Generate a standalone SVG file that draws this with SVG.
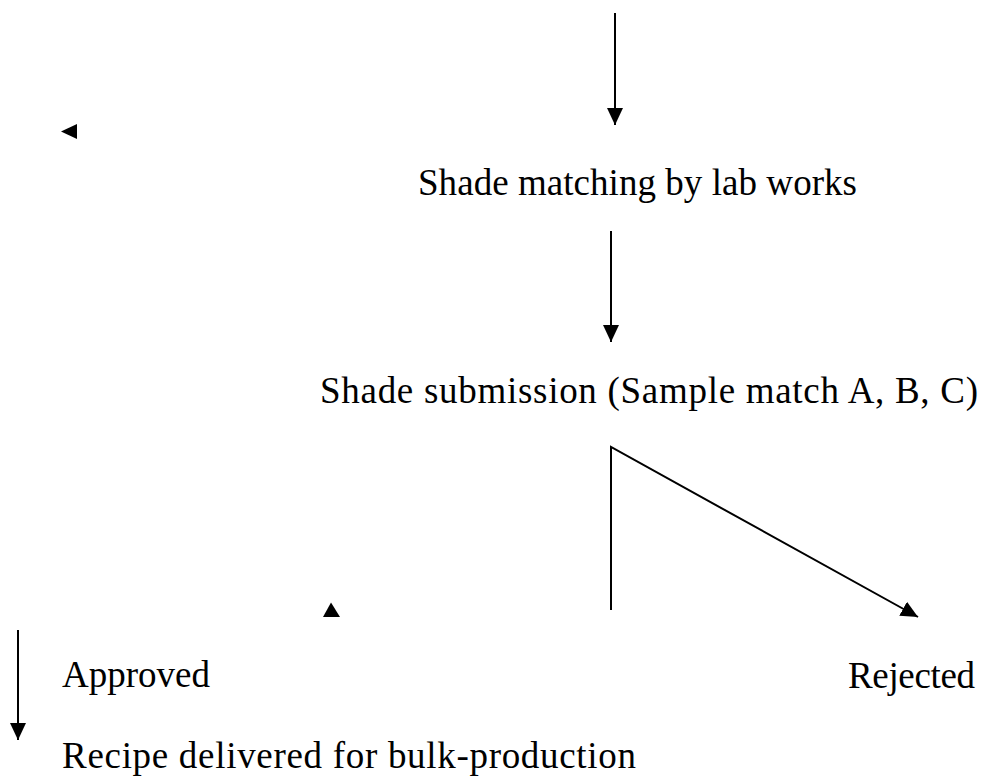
<svg xmlns="http://www.w3.org/2000/svg" width="983" height="781" viewBox="0 0 983 781">
<style>
.t{font-family:"Liberation Serif","Times New Roman",serif;font-size:37px;fill:#000}
.c{stroke:#000;stroke-width:2;fill:none}
.h{fill:#000}
</style>
<defs>
<marker id="ah" viewBox="0 0 17 16" refX="17" refY="8" markerWidth="17" markerHeight="16" markerUnits="userSpaceOnUse" orient="auto">
<path d="M0,0 L17,8 L0,16 z" fill="#000"/>
</marker>
</defs>
<rect width="983" height="781" fill="#fff"/>
<g id="connectors">
<line class="c" x1="615" y1="13" x2="615" y2="125" marker-end="url(#ah)"/>
<line class="c" x1="611" y1="231" x2="611" y2="342" marker-end="url(#ah)"/>
<polyline class="c" points="611,610 611,447 918,617" marker-end="url(#ah)"/>
<line class="c" x1="18" y1="630" x2="18" y2="740" marker-end="url(#ah)"/>
<polygon class="h" points="61,131.5 77,124 77,139"/>
<polygon class="h" points="331,602.5 323,617 340,617"/>
</g>
<g id="node-lab"><text class="t" x="418" y="195" textLength="439" lengthAdjust="spacing">Shade matching by lab works</text></g>
<g id="node-submission"><text class="t" x="320" y="403" textLength="658" lengthAdjust="spacing">Shade submission (Sample match A, B, C)</text></g>
<g id="node-approved"><text class="t" x="62" y="687">Approved</text></g>
<g id="node-rejected"><text class="t" x="848" y="688" textLength="127" lengthAdjust="spacing">Rejected</text></g>
<g id="node-recipe"><text class="t" x="62" y="768" textLength="574" lengthAdjust="spacing">Recipe delivered for bulk-production</text></g>
</svg>
